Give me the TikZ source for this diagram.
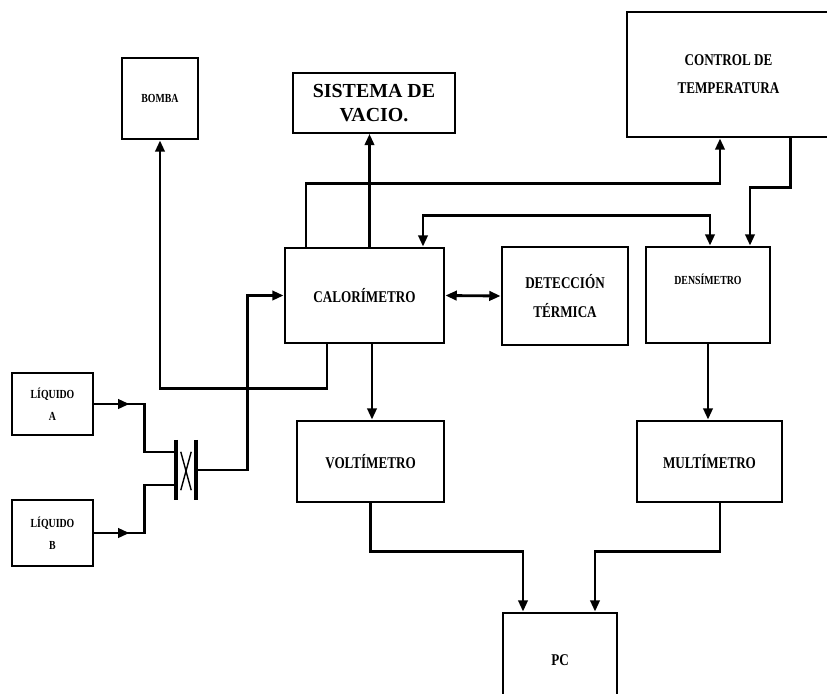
\documentclass[tikz,border=0pt]{standalone}
\usepackage{fontspec}
\setmainfont{Liberation Serif}
\newfontfamily\condfont[FakeStretch=0.8]{Liberation Serif}
\usetikzlibrary{arrows.meta}
\usetikzlibrary{calc}
\usetikzlibrary{decorations.markings}
\tikzstyle{block} = [rectangle, draw=black, line width=2.4pt, text centered, align=center, inner sep=0pt, font=\condfont\bfseries\fontsize{14}{24}\selectfont]
\tikzstyle{smalltext} = [font=\condfont\bfseries\fontsize{10.5}{19}\selectfont]
\tikzstyle{arrow} = [line width=2.4pt, -{Triangle[length=3.4mm,width=2.8mm]}]
\tikzstyle{dblarrow} = [line width=2.4pt, {Triangle[length=3.4mm,width=2.8mm]}-{Triangle[length=3.4mm,width=2.8mm]}]
\tikzstyle{midarrow} = [line width=2.4pt, decoration={markings, mark=at position 10.5mm with {\arrow{Triangle[length=3.4mm,width=2.8mm]}}}, postaction={decorate}]

\begin{document}
\begin{tikzpicture}[x=0.3mm,y=-0.3mm]
\useasboundingbox (0,0) rectangle (827,693);

\node (bomba) [block, smalltext, minimum width=22.8mm, minimum height=24.3mm] at (160,98.5) {BOMBA};
\node (vacio) [block, line width=1.4pt, font=\bfseries\fontsize{17}{20}\selectfont, minimum width=48.6mm, minimum height=18mm] at (374,103) {SISTEMA DE\\VACIO.};
\node (ctrl) [block, minimum width=60.9mm, minimum height=37.5mm] at (728.5,74.5) {CONTROL DE\\TEMPERATURA};
\node (cal) [block, minimum width=47.7mm, minimum height=28.5mm] at (364.5,295.5) {CALORÍMETRO};
\node (det) [block, minimum width=37.8mm, minimum height=29.4mm] at (565,296) {DETECCIÓN\\TÉRMICA};
\node (dens) [block, smalltext, minimum width=37.2mm, minimum height=28.8mm] at (708,295) {DENSÍMETRO\\[1.5ex]};
\node (volt) [block, minimum width=44.1mm, minimum height=24.3mm] at (370.5,461.5) {VOLTÍMETRO};
\node (mult) [block, minimum width=43.5mm, minimum height=24.3mm] at (709.5,461.5) {MULTÍMETRO};
\node (pc) [block, minimum width=34.2mm, minimum height=28.2mm] at (560,660) {PC};
\node (liqA) [block, smalltext, minimum width=24.3mm, minimum height=18.6mm] at (52.5,404) {LÍQUIDO\\A};
\node (liqB) [block, smalltext, minimum width=24.3mm, minimum height=19.8mm] at (52.5,533) {LÍQUIDO\\B};
\node (valve) [minimum width=6mm, minimum height=18mm, inner sep=0pt] at (186,470) {};

% valvula
\draw [line width=3pt] (valve.north west) -- (valve.south west);
\draw [line width=3pt] (valve.north east) -- (valve.south east);
\draw [line width=1.2pt] ($(valve.north west)+(5,12)$) -- ($(valve.south east)+(-5,-10)$);
\draw [line width=1.2pt] ($(valve.north east)+(-5,12)$) -- ($(valve.south west)+(5,-10)$);

\draw [midarrow] (liqA.east) -- ++(50,0) |- ($(valve.west)+(0,-18)$);
\draw [midarrow] (liqB.east) -- ++(50,0) |- ($(valve.west)+(0,15)$);
\draw [arrow] (valve.east) -- ++(51,0) |- (cal.west);

\draw [arrow] ($(cal.south)+(-37.5,0)$) -- ++(0,44) -| (bomba.south);
\draw [arrow] ($(cal.north)+(5,0)$) coordinate (c0) -- (c0 |- vacio.south);
\draw [arrow] ($(cal.north)+(-58.5,0)$) -- ++(0,-63) -| ($(ctrl.south)+(-8.5,0)$);
\draw [arrow] ($(ctrl.south)+(62,0)$) -- ++(0,49) -| ($(dens.north)+(42,0)$);
\draw [dblarrow] ($(cal.north)+(58.5,0)$) -- ++(0,-31) -| ($(dens.north)+(2,0)$);
\draw [dblarrow] (cal.east) -- (det.west);

\draw [arrow] ($(cal.south)+(7.5,0)$) coordinate (c1) -- (c1 |- volt.north);
\draw [arrow] (dens.south) -- (dens.south |- mult.north);
\draw [arrow] (volt.south) -- ++(0,48) -| ($(pc.north)+(-37,0)$);
\draw [arrow] ($(mult.south)+(10.5,0)$) -- ++(0,48) -| ($(pc.north)+(35,0)$);

\end{tikzpicture}
\end{document}
